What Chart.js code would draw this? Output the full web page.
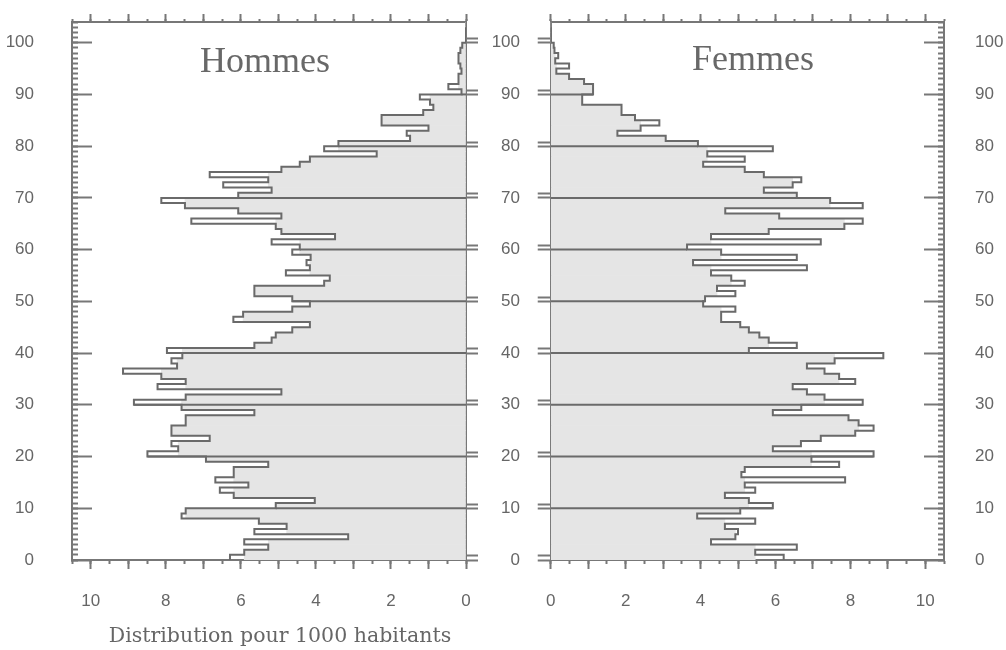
<!DOCTYPE html>
<html>
<head>
<meta charset="utf-8">
<script src="https://cdn.jsdelivr.net/npm/chart.js@4.4.1/dist/chart.umd.min.js"></script>
<style>
  html, body { margin: 0; padding: 0; background: #fff; }
  #wrap { position: relative; width: 1006px; height: 650px; overflow: hidden; }
  canvas { position: absolute; top: 0; }
  #chartH { left: 0; }
  #chartF { left: 524px; }
  .ttl { position: absolute; font-family: "Liberation Serif", serif; font-size: 36px; line-height: 36px;
         color: #686868; white-space: nowrap; transform: translateX(-50%); }
  .xttl { position: absolute; left: 280px; top: 623px; font-family: "DejaVu Serif", serif; font-size: 20.5px;
          line-height: 24px; color: #666; white-space: nowrap; transform: translateX(-50%); }
</style>
</head>
<body>
<div id="wrap">
  <canvas id="chartH" width="524" height="650"></canvas>
  <canvas id="chartF" width="482" height="650"></canvas>
  <div class="ttl" style="left:265px;top:42px">Hommes</div>
  <div class="ttl" style="left:753px;top:40px">Femmes</div>
  <div class="xttl">Distribution pour 1000 habitants</div>
</div>
<script>
// age (years), bottom of each one-year band
const ages = [0,1,2,3,4,5,6,7,8,9,10,11,12,13,14,15,16,17,18,19,20,21,22,23,24,25,26,27,28,29,
  30,31,32,33,34,35,36,37,38,39,40,41,42,43,44,45,46,47,48,49,50,51,52,53,54,55,56,57,58,59,
  60,61,62,63,64,65,66,67,68,69,70,71,72,73,74,75,76,77,78,79,80,81,82,83,84,85,86,87,88,89,
  90,91,92,93,94,95,96,97,98,99,100,101,102,103];

// distribution per 1000 inhabitants
const hommes = [6.29,5.91,5.27,5.91,3.14,5.64,4.78,5.52,7.58,7.47,5.07,4.03,6.19,6.56,5.80,6.68,6.19,6.19,5.27,6.93,
  8.49,7.67,7.85,6.83,7.85,7.85,7.47,7.47,5.64,7.58,8.85,7.47,4.92,8.22,7.47,8.12,9.14,7.70,7.85,7.56,
  7.97,5.64,5.18,5.07,4.63,4.16,6.20,5.94,4.63,4.16,4.63,5.64,5.64,3.78,3.63,4.80,4.16,4.25,4.14,4.63,
  4.43,5.18,3.49,4.92,5.07,7.32,4.92,6.07,7.49,8.12,6.07,5.18,6.47,5.27,6.83,4.92,4.43,4.16,2.38,3.78,
  3.40,1.49,1.58,1.00,2.25,2.25,1.14,0.87,0.96,1.23,0.12,0.47,0.20,0.20,0.12,0.15,0.20,0.20,0.15,0.10,
  0,0,0,0];
const femmes = [6.22,5.46,6.57,4.28,4.93,5.00,4.65,5.46,3.91,5.06,5.93,5.29,4.65,5.46,5.18,7.86,5.09,5.18,7.70,6.96,
  8.62,5.93,6.68,7.21,8.13,8.62,8.22,7.95,5.93,6.69,8.33,7.31,6.84,6.46,8.13,7.70,7.31,6.84,7.58,8.88,
  5.29,6.57,5.82,5.57,5.29,5.06,4.55,4.55,4.93,4.07,4.12,4.93,4.44,5.18,4.82,4.28,6.84,3.80,6.57,4.55,
  3.64,7.21,4.28,5.82,7.84,8.33,6.10,4.66,8.33,7.46,6.57,5.69,6.46,6.69,5.69,5.18,4.07,5.18,4.18,5.93,
  3.93,3.07,1.78,2.40,2.90,2.25,1.89,1.89,0.84,0.84,1.13,1.13,0.89,0.49,0.15,0.49,0.12,0.20,0.10,0.08,
  0,0,0,0];

const decades = [10, 20, 30, 40, 50, 60, 70, 80, 90];
const ageTicks = [0, 10, 20, 30, 40, 50, 60, 70, 80, 90, 100];

const AXIS = '#777';
const LINE = '#6a6a6a';
const FILL = '#e5e5e5';
const TXT = '#666';
const tickFont = { family: 'Liberation Sans', size: 17 };

// grey area stops where a one-year spike sticks out past both neighbours
function innerEdge(vals) {
  return vals.map((v, i) => Math.min(v, Math.max(i > 0 ? vals[i - 1] : 0, i < vals.length - 1 ? vals[i + 1] : 0)));
}

function datasets(vals, yId) {
  const inner = innerEdge(vals);
  const out = [
    { type: 'bar', label: 'fond', data: ages.map((a, i) => ({ x: inner[i], y: a + 0.5 })),
      backgroundColor: FILL, borderWidth: 0, barPercentage: 1, categoryPercentage: 1,
      yAxisID: yId, order: 5 },
    { type: 'line', label: 'contour', data: ages.map((a, i) => ({ x: vals[i], y: a })),
      borderColor: LINE, borderWidth: 2, stepped: 'after', pointRadius: 0, fill: false,
      yAxisID: yId, order: 1 }
  ];
  decades.forEach(d => {
    out.push({ type: 'line', label: 'age ' + d, data: [{ x: 0, y: d }, { x: vals[ages.indexOf(d)], y: d }],
      borderColor: LINE, borderWidth: 2, pointRadius: 0, fill: false, yAxisID: yId, order: 2 });
  });
  return out;
}

function xScale(pos, reverse, step, tl, weight, extra) {
  return Object.assign({
    type: 'linear', position: pos, reverse, min: 0, max: 10.5, weight, offset: false,
    ticks: { display: false, stepSize: step, includeBounds: false, autoSkip: false },
    grid: { drawOnChartArea: false, offset: false, tickLength: tl, tickWidth: 2, tickColor: AXIS },
    border: { color: AXIS, width: 2 }
  }, extra);
}

// shift moves the whole tick set up by that many years (for the doubled middle ticks)
function yScale(pos, step, tl, weight, width, extra, shift = 0) {
  return Object.assign({
    type: 'linear', position: pos, min: 0 - shift, max: 104 - shift, weight, offset: false,
    ticks: { display: false, stepSize: step, includeBounds: false, autoSkip: false },
    grid: { drawOnChartArea: false, offset: false, tickLength: tl, tickWidth: 2, tickColor: AXIS },
    border: { color: AXIS, width: 2 },
    afterFit: s => { s.width = width; s.paddingTop = 0; s.paddingBottom = 0; }
  }, extra);
}

const xLabels = {
  display: true, stepSize: 1, includeBounds: false, autoSkip: false, maxRotation: 0,
  padding: 22, color: TXT, font: tickFont,
  callback: v => (v % 2 === 0 ? String(v) : '')
};
const yLabels = (pad, align) => ({
  display: true, stepSize: 10, includeBounds: false, autoSkip: false, padding: pad,
  crossAlign: align, color: TXT, font: tickFont,
  callback: v => (ageTicks.includes(v) ? String(v) : '')
});

const common = {
  responsive: false,
  animation: false,
  indexAxis: 'y',
  plugins: { legend: { display: false }, tooltip: { enabled: false }, title: { display: false } }
};

new Chart(document.getElementById('chartH'), {
  data: { datasets: datasets(hommes, 'y') },
  options: Object.assign({}, common, {
    layout: { padding: { left: 0, right: 4, top: 0, bottom: 0 } },
    scales: {
      x: xScale('bottom', true, 1, 9, 1, { ticks: xLabels, afterFit: s => { s.height = 90; } }),
      x2: xScale('bottom', true, 0.5, 4, 0, { afterFit: s => { s.height = 0; } }),
      x3: xScale('top', true, 1, 8, 1, { afterFit: s => { s.height = 22; } }),
      x4: xScale('top', true, 0.5, 3, 0, { afterFit: s => { s.height = 0; } }),
      y: yScale('left', 10, -20, 1, 72, { ticks: yLabels(58, 'near') }),
      y2: yScale('left', 1, -6, 0, 0),
      ymA: yScale('right', 10, 12, 0, 0, {}, 0),
      ymB: yScale('right', 10, 12, 0, 0, {}, 0.8),
      ym: yScale('right', 10, 12, 1, 54, { ticks: yLabels(0, 'far'), grid: { drawOnChartArea: false, drawTicks: false } })
    }
  })
});

new Chart(document.getElementById('chartF'), {
  data: { datasets: datasets(femmes, 'yr') },
  options: Object.assign({}, common, {
    layout: { padding: 0 },
    scales: {
      x: xScale('bottom', false, 1, 9, 1, { ticks: xLabels, afterFit: s => { s.height = 90; } }),
      x2: xScale('bottom', false, 0.5, 4, 0, { afterFit: s => { s.height = 0; } }),
      x3: xScale('top', false, 1, 8, 1, { afterFit: s => { s.height = 22; } }),
      x4: xScale('top', false, 0.5, 3, 0, { afterFit: s => { s.height = 0; } }),
      ylA: yScale('left', 10, 13, 0, 0, {}, 0),
      ylB: yScale('left', 10, 13, 0, 0, {}, 0.8),
      yl: yScale('left', 10, 13, 1, 26, { grid: { drawOnChartArea: false, drawTicks: false } }),
      yr: yScale('right', 10, -20, 1, 62, { ticks: yLabels(51, 'near') }),
      yr2: yScale('right', 1, -6, 0, 0)
    }
  })
});
</script>
</body>
</html>
